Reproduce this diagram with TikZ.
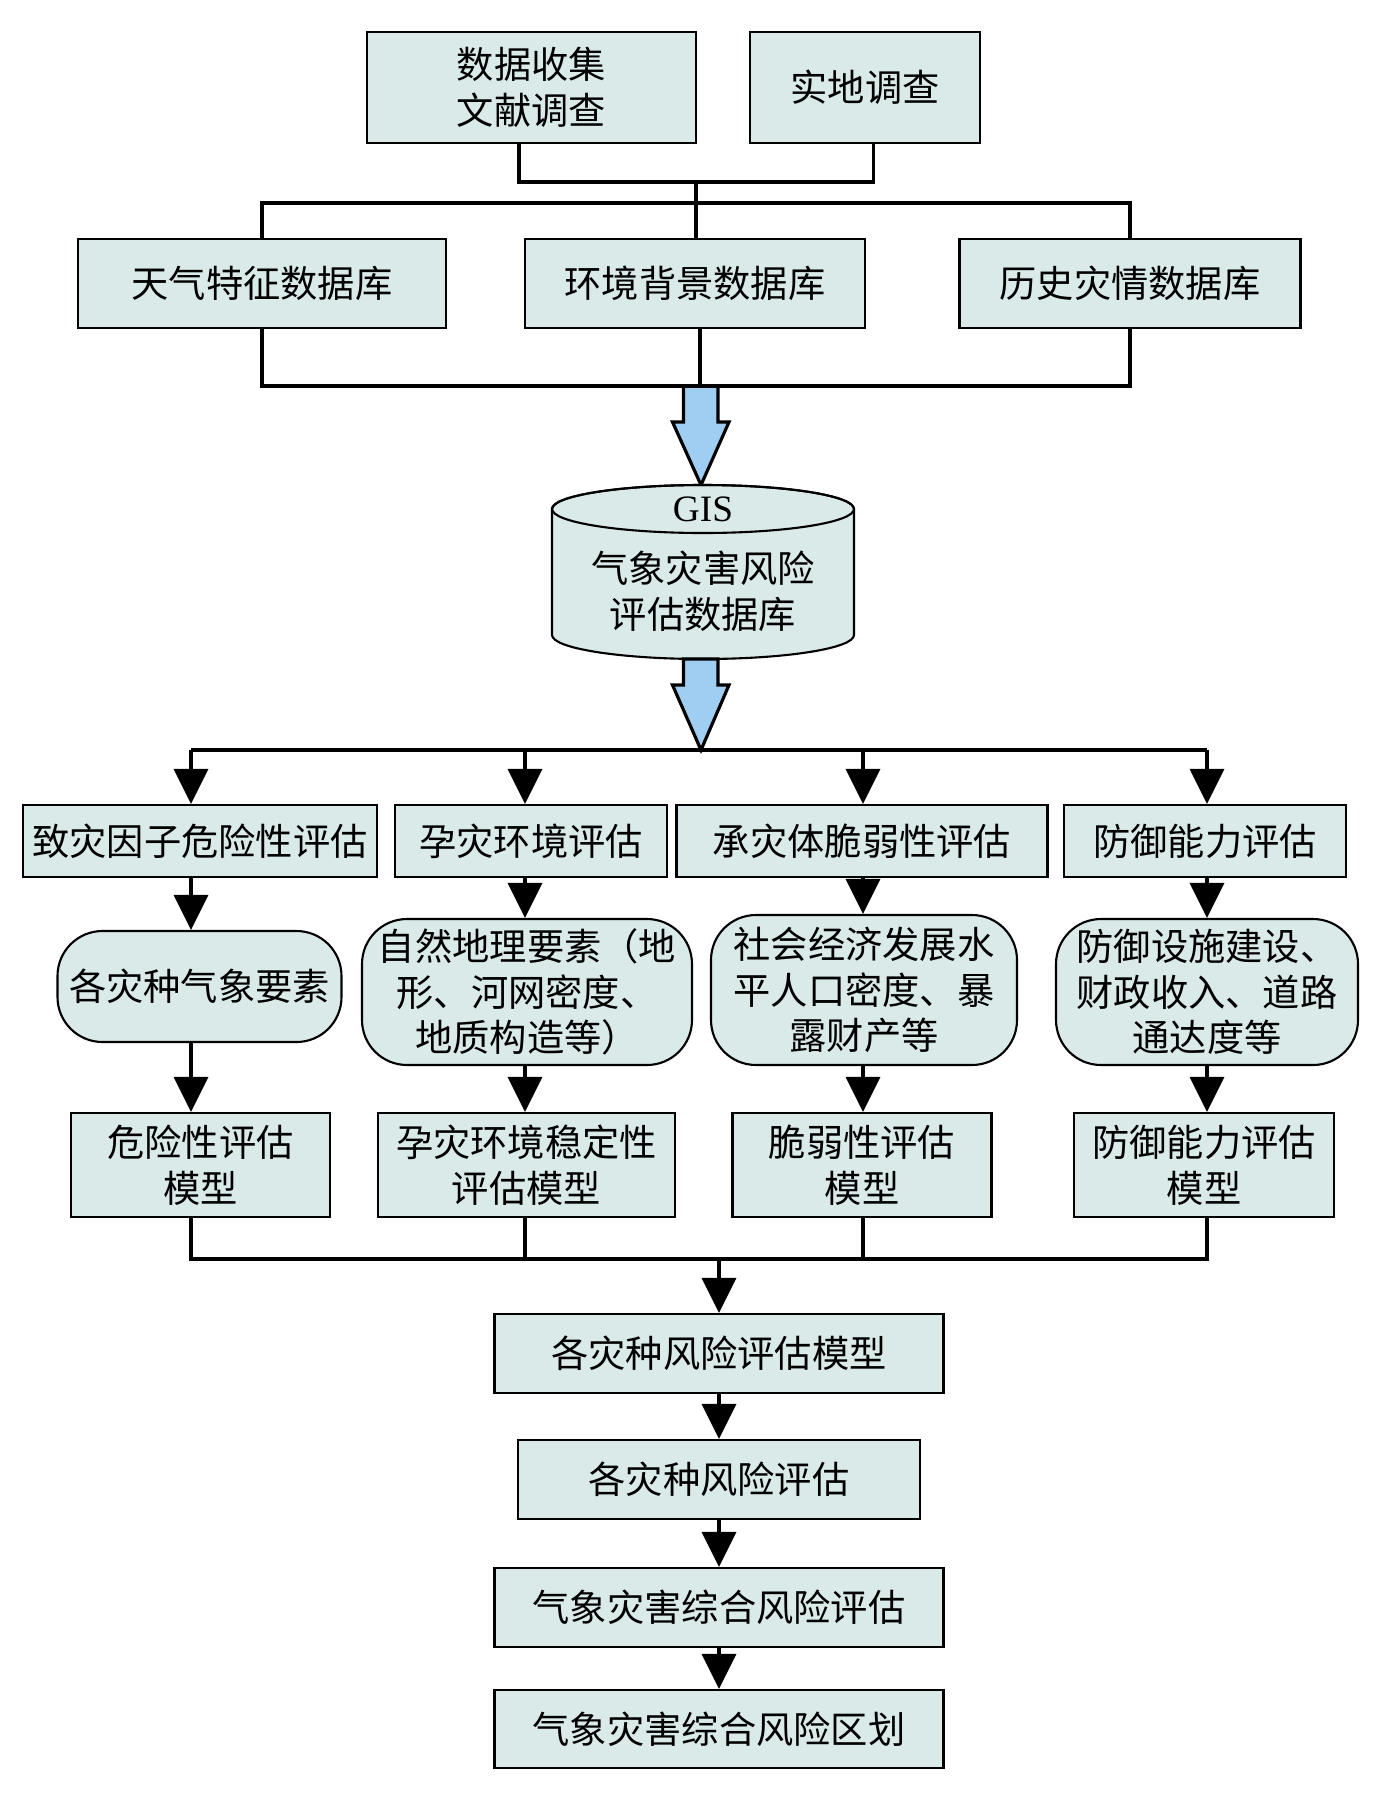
\documentclass[tikz,border=0pt]{standalone}
\usepackage{fontspec}
\setmainfont{Liberation Serif}
\newfontfamily\cjk{Noto Sans CJK SC}
\usepackage{tikz}
\usetikzlibrary{arrows.meta,calc,positioning}
\definecolor{boxfill}{RGB}{218,234,233}
\definecolor{arrblue}{RGB}{160,206,242}

\begin{document}
\begin{tikzpicture}[>={Triangle[width=3.4mm,length=3.5mm]},x=0.1mm,y=-0.1mm]
\tikzset{fb/.style={draw,line width=0.6pt,fill=boxfill,font=\cjk\fontsize{10.6}{13}\selectfont,align=center,inner sep=0pt},rb/.style={fb,rounded corners=4.5mm},cn/.style={line width=0.9pt},ar/.style={cn,->},ba/.style={draw,line width=0.9pt,fill=arrblue,line join=miter}}
\useasboundingbox (0,0) rectangle (1387,1797);
\node[fb,minimum width=32.9mm,minimum height=11.1mm] (src1) at (531.5,87.5) {数据收集\\文献调查}; \node[fb,minimum width=23mm,minimum height=11.1mm] (src2) at (865,87.5) {实地调查};
\node[fb,minimum width=36.8mm,minimum height=8.9mm] (db1) at (262,283.5) {天气特征数据库}; \node[fb,minimum width=34mm,minimum height=8.9mm] (db2) at (695,283.5) {环境背景数据库}; \node[fb,minimum width=34.1mm,minimum height=8.9mm] (db3) at (1130,283.5) {历史灾情数据库};
\coordinate (j0) at (696,182); \coordinate (j1) at (696,203); \coordinate (j2) at (700,386);
\coordinate (cyt) at (701,485); \coordinate (cyb) at (701,659); \coordinate (j3) at (701,750);
\draw[cn] ([xshift=-1.25mm]src1.south) |- (j0) -| ([xshift=0.85mm]src2.south); \draw[cn] (j0) -- (j1);
\draw[cn] (db1.north) |- (j1) -| (db3.north); \draw[cn] (j1) -- (j1 |- db2.north);
\draw[ba] ([xshift=-1.75mm]cyt |- j2) -- ++(0,36) -- ++(-11,0) -- (cyt) -- ++(28,-63) -- ++(-11,0) -- ++(0,-36) -- cycle;
\draw[cn] (db1.south) |- (j2) -| (db3.south); \draw[cn] (j2 |- db2.south) -- (j2);
\draw[line width=0.6pt,fill=boxfill] (552,509) -- (552,635) arc[start angle=180,end angle=360,x radius=15.1mm,y radius=2.4mm] -- (854,509) arc[start angle=0,end angle=180,x radius=15.1mm,y radius=2.4mm] -- cycle;
\draw[line width=0.6pt] (703,509) ellipse[x radius=15.1mm,y radius=2.4mm];
\node[align=center,font=\fontsize{10.6}{13}\selectfont] (gis) at (703,564) {GIS\\[4.5pt]{\cjk 气象灾害风险}\\{\cjk 评估数据库}};
\draw[ba] ([xshift=-1.75mm]cyb) -- ++(0,26) -- ++(-11,0) -- (j3) -- ++(28,-65) -- ++(-11,0) -- ++(0,-26) -- cycle;
\coordinate (c1) at (191,750); \coordinate (c2) at (525,750); \coordinate (c3) at (863,750); \coordinate (c4) at (1207,750);
\node[fb,minimum width=35.4mm,minimum height=7.2mm] (e1) at (200,841) {致灾因子危险性评估}; \node[fb,minimum width=27.2mm,minimum height=7.2mm] (e2) at (531,841) {孕灾环境评估};
\node[fb,minimum width=37.1mm,minimum height=7.2mm] (e3) at (862,841) {承灾体脆弱性评估}; \node[fb,minimum width=28.2mm,minimum height=7.2mm] (e4) at (1205,841) {防御能力评估};
\node[rb,minimum width=28.4mm,minimum height=11.1mm] (f1) at (199.5,986.5) {各灾种气象要素}; \node[rb,minimum width=33mm,minimum height=14.6mm] (f2) at (527,992) {自然地理要素（地\\形、河网密度、\\地质构造等）};
\node[rb,minimum width=30.6mm,minimum height=15mm] (f3) at (864,990) {社会经济发展水\\平人口密度、暴\\露财产等}; \node[rb,minimum width=30.2mm,minimum height=14.6mm] (f4) at (1207,992) {防御设施建设、\\财政收入、道路\\通达度等};
\node[fb,minimum width=25.9mm,minimum height=10.4mm] (g1) at (200.5,1165) {危险性评估\\模型}; \node[fb,minimum width=29.7mm,minimum height=10.4mm] (g2) at (526.5,1165) {孕灾环境稳定性\\评估模型};
\node[fb,minimum width=25.9mm,minimum height=10.4mm] (g3) at (862,1165) {脆弱性评估\\模型}; \node[fb,minimum width=26mm,minimum height=10.4mm] (g4) at (1204,1165) {防御能力评估\\模型};
\draw[cn] (c1) -- (c4);
\draw[ar] (c1) -- (c1 |- e1.north); \draw[ar] (c2) -- (c2 |- e2.north); \draw[ar] (c3) -- (c3 |- e3.north); \draw[ar] (c4) -- (c4 |- e4.north);
\draw[ar] (c1 |- e1.south) -- (c1 |- f1.north); \draw[ar] (c2 |- e2.south) -- (c2 |- f2.north); \draw[ar] (c3 |- e3.south) -- (c3 |- f3.north); \draw[ar] (c4 |- e4.south) -- (c4 |- f4.north);
\draw[ar] (c1 |- f1.south) -- (c1 |- g1.north); \draw[ar] (c2 |- f2.south) -- (c2 |- g2.north); \draw[ar] (c3 |- f3.south) -- (c3 |- g3.north); \draw[ar] (c4 |- f4.south) -- (c4 |- g4.north);
\node[fb,minimum width=44.9mm,minimum height=7.9mm] (h1) at (719,1353.5) {各灾种风险评估模型}; \node[fb,minimum width=40.2mm,minimum height=7.9mm] (h2) at (719,1479.5) {各灾种风险评估};
\node[fb,minimum width=44.9mm,minimum height=7.9mm] (h3) at (719,1607.5) {气象灾害综合风险评估}; \node[fb,minimum width=44.9mm,minimum height=7.8mm] (h4) at (719,1729) {气象灾害综合风险区划};
\coordinate (k) at (719,1259);
\draw[cn] (c1 |- g1.south) |- (k) -| (c4 |- g4.south); \draw[cn] (c2 |- g2.south) -- (c2 |- k); \draw[cn] (c3 |- g3.south) -- (c3 |- k);
\draw[ar] (k) -- (h1); \draw[ar] (h1) -- (h2); \draw[ar] (h2) -- (h3); \draw[ar] (h3) -- (h4);
\end{tikzpicture}
\end{document}
